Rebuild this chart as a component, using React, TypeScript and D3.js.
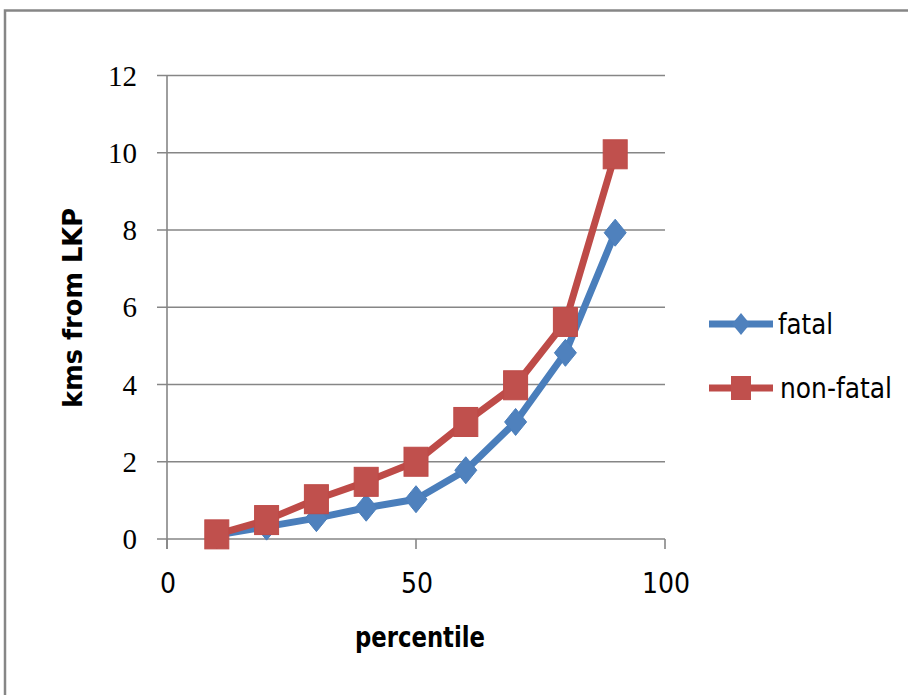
import * as d3 from "d3";

const percentiles = [10, 20, 30, 40, 50, 60, 70, 80, 90];
const fatal = [0.1, 0.32, 0.54, 0.81, 1.03, 1.78, 3.03, 4.82, 7.93];
const nonFatal = [0.12, 0.49, 1.03, 1.48, 2.0, 3.03, 3.98, 5.62, 9.96];
const yTicks = [0, 2, 4, 6, 8, 10, 12];
const xTicks = [0, 50, 100];

const W = 908;
const H = 695;
const BLUE = "#4a7ebb";
const BLUE_FILL = "#4f81bd";
const RED = "#be4b48";
const RED_FILL = "#c0504d";
const GRID = "#868686";

// diamond stretched a little taller than wide, like the source
function diamond(cx: number, cy: number, w = 11, h = 13.5) {
  return `M${cx},${cy - h}L${cx + w},${cy}L${cx},${cy + h}L${cx - w},${cy}Z`;
}

export default function App() {
  const x = d3.scaleLinear().domain([0, 100]).range([167, 665]);
  const y = d3.scaleLinear().domain([0, 12]).range([539, 75.5]);

  const rows = percentiles.map((p, i) => ({ p, f: fatal[i], n: nonFatal[i] }));
  const lineF = d3.line<(typeof rows)[0]>().x((d) => x(d.p)).y((d) => y(d.f));
  const lineN = d3.line<(typeof rows)[0]>().x((d) => x(d.p)).y((d) => y(d.n));

  const sans = "'DejaVu Sans Condensed', 'Liberation Sans Narrow', 'DejaVu Sans', sans-serif";

  return (
    <svg
      width={W}
      height={H}
      style={{ position: "absolute", left: 0, top: 0, display: "block", background: "#fff" }}
    >
      {/* outer frame, cut off at right and bottom */}
      <rect x={5} y={10.5} width={W + 20} height={H + 20} fill="#fff" stroke={GRID} strokeWidth={2.5} />

      {/* gridlines */}
      {yTicks.map((t) => (
        <line key={"g" + t} x1={157} x2={x(100)} y1={y(t)} y2={y(t)} stroke={GRID} strokeWidth={1.6} />
      ))}
      {/* y axis */}
      <line x1={x(0)} x2={x(0)} y1={y(12)} y2={549} stroke={GRID} strokeWidth={1.6} />
      {/* x axis ticks */}
      {xTicks.map((t) => (
        <line key={"xt" + t} x1={x(t)} x2={x(t)} y1={y(0)} y2={549} stroke={GRID} strokeWidth={1.6} />
      ))}

      {yTicks.map((t) => (
        <text
          key={"yl" + t}
          x={137}
          y={y(t) + 10}
          textAnchor="end"
          fontFamily="'Liberation Serif', serif"
          fontSize={29}
          fill="#000"
        >
          {t}
        </text>
      ))}
      {xTicks.map((t) => (
        <text
          key={"xl" + t}
          x={x(t) + 1}
          y={593}
          textAnchor="middle"
          fontFamily={sans}
          fontSize={28}
          fill="#000"
        >
          {t}
        </text>
      ))}

      <text
        transform={`translate(82,308) rotate(-90)`}
        textAnchor="middle"
        fontFamily={sans}
        fontWeight="bold"
        fontSize={27}
        textLength={200}
        lengthAdjust="spacingAndGlyphs"
      >
        kms from LKP
      </text>
      <text
        x={420}
        y={647}
        textAnchor="middle"
        fontFamily={sans}
        fontWeight="bold"
        fontSize={28}
        textLength={130}
        lengthAdjust="spacingAndGlyphs"
      >
        percentile
      </text>

      {/* series */}
      <path d={lineF(rows) ?? ""} fill="none" stroke={BLUE} strokeWidth={7} strokeLinejoin="round" />
      {rows.map((d) => (
        <path key={"f" + d.p} d={diamond(x(d.p), y(d.f))} fill={BLUE_FILL} stroke={BLUE} strokeWidth={1} />
      ))}
      <path d={lineN(rows) ?? ""} fill="none" stroke={RED} strokeWidth={7} strokeLinejoin="round" />
      {rows.map((d) => (
        <rect
          key={"n" + d.p}
          x={x(d.p) - 12}
          y={y(d.n) - 14.5}
          width={24}
          height={29}
          fill={RED_FILL}
          stroke={RED}
          strokeWidth={1}
        />
      ))}

      {/* legend */}
      <g>
        <line x1={709} x2={773} y1={324} y2={324} stroke={BLUE} strokeWidth={7} />
        <path d={diamond(741, 324, 9, 11)} fill={BLUE_FILL} />
        <text x={778} y={334} fontFamily={sans} fontSize={29} textLength={55} lengthAdjust="spacingAndGlyphs">
          fatal
        </text>
        <line x1={709} x2={773} y1={388} y2={388} stroke={RED} strokeWidth={7} />
        <rect x={731} y={376} width={20} height={24} fill={RED_FILL} />
        <text x={780} y={398} fontFamily={sans} fontSize={29} textLength={112} lengthAdjust="spacingAndGlyphs">
          non-fatal
        </text>
      </g>
    </svg>
  );
}
